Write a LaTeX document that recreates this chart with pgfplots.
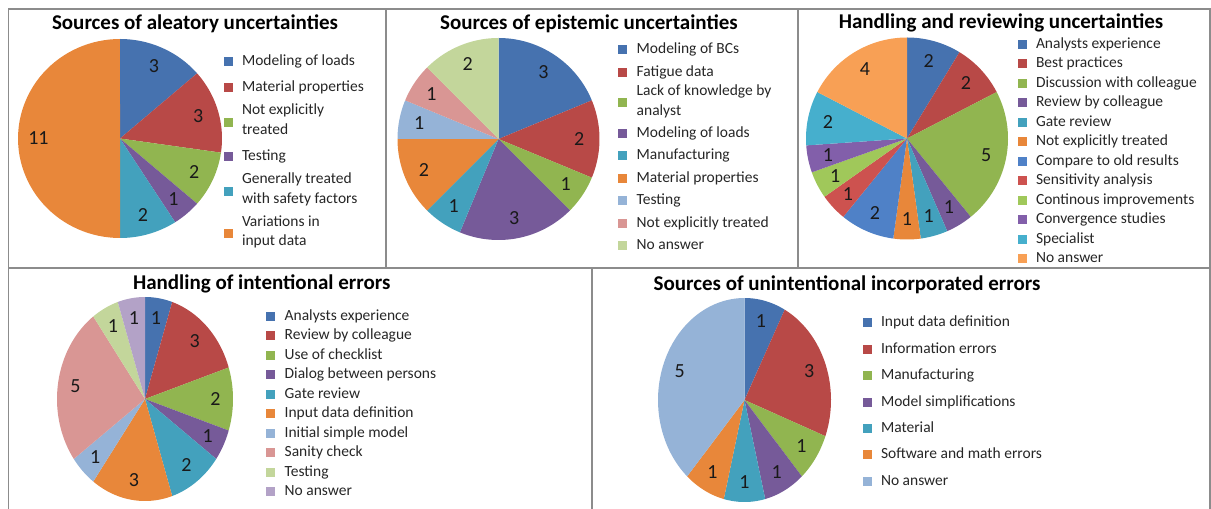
\documentclass[border=0pt]{standalone}
\usepackage{fontspec}
\setmainfont{Carlito}
\usepackage{pgfplots}
\pgfplotsset{compat=1.18}

\definecolor{cBlue}{RGB}{70,114,175}
\definecolor{cRed}{RGB}{184,73,71}
\definecolor{cGreen}{RGB}{145,181,80}
\definecolor{cPurple}{RGB}{118,90,153}
\definecolor{cTeal}{RGB}{67,161,189}
\definecolor{cOrange}{RGB}{232,135,58}
\definecolor{cLBlue}{RGB}{149,179,215}
\definecolor{cPink}{RGB}{217,150,148}
\definecolor{cLGreen}{RGB}{195,214,155}
\definecolor{cLav}{RGB}{179,162,199}
\definecolor{dBlue}{RGB}{79,129,199}
\definecolor{dRed}{RGB}{205,82,79}
\definecolor{dGreen}{RGB}{160,200,90}
\definecolor{dPurple}{RGB}{130,95,170}
\definecolor{dCyan}{RGB}{70,175,205}
\definecolor{dOrange}{RGB}{248,160,85}

\newcommand\labfont{\fontsize{20}{22}\selectfont}
\newcommand\pieset[5]{\def\cx{#1}\def\cy{#2}\def\rx{#3}\def\ry{#4}\def\tot{#5}}
\def\lr{0.8}
% #1 colour, #2 count before this slice, #3 value, #4 legend text
\newcommand\slice[4]{%
  \pgfmathsetmacro\sa{360*#2/\tot}%
  \pgfmathsetmacro\se{360*(#2+#3)/\tot}%
  \pgfmathsetmacro\sm{(\sa+\se)/2}%
  \pgfmathsetmacro\lx{\cx+\lr*\rx*sin(\sm)}%
  \pgfmathsetmacro\ly{\cy+\lr*\ry*cos(\sm)}%
  \edef\doslice{\noexpand\addplot[fill=#1,draw=none,domain=\sa:\se,samples=60,variable=\noexpand\t] ({\cx+\rx*sin(\noexpand\t)},{\cy+\ry*cos(\noexpand\t)}) -- (axis cs:\cx,\cy) -- cycle;}%
  \doslice
  \addlegendentry{#4}%
  \edef\dolabel{\noexpand\node[font=\noexpand\labfont,text=black!90,inner sep=0pt] at (axis cs:\lx,\ly) {#3};}%
  \dolabel
}

\pgfplotsset{
  every axis legend/.style={draw=none, fill=none, anchor=north west, inner sep=0pt, outer sep=0pt,
    font=\fontsize{15.5}{19.5}\selectfont, text=black!85,
    cells={anchor=west},
    nodes={inner sep=0pt, align=left, execute at begin node=\strut, execute at end node=\strut}},
  panel/.style={scale only axis, anchor=south west, xmin=0, ymin=0, ticks=none, clip=false,
    axis line style={draw=black!45, line width=1.3pt},
    legend image code/.code={\fill[##1] (0pt,-4.5pt) rectangle (9pt,4.5pt); \path (18.5pt,0pt);},
    title style={font=\fontsize{21}{24}\selectfont\bfseries, anchor=center, yshift=-7pt, inner sep=0pt, text=black},
  },
}

\begin{document}
\begin{tikzpicture}
\path[use as bounding box] (0,0) rectangle (1211pt,509pt);

% Panel 1
\begin{axis}[panel, at={(8.5pt,241pt)}, width=377.5pt, height=259pt, xmax=377.5, ymax=259,
  title={Sources of aleatory uncertainties}, title style={at={({186.5/377.5},{245/259})}},
  legend style={at={({215/377.5},{216/259})}, row sep=6.6pt}]
\pieset{111.5}{129.5}{102}{99.5}{22}
\slice{cBlue}{0}{3}{Modeling of loads}
\slice{cRed}{3}{3}{Material properties}
\slice{cGreen}{6}{2}{Not explicitly\\treated}
\slice{cPurple}{8}{1}{Testing}
\slice{cTeal}{9}{2}{Generally treated\\with safety factors}
\slice{cOrange}{11}{11}{Variations in\\input data}
\end{axis}

% Panel 2
\begin{axis}[panel, at={(386pt,241pt)}, width=412pt, height=259pt, xmax=412, ymax=259,
  title={Sources of epistemic uncertainties}, title style={at={({203/412},{245/259})}},
  legend style={at={({232.2/412},{228/259})}, row sep=2.9pt}]
\pieset{112.5}{129}{101}{101}{16}
\slice{cBlue}{0}{3}{Modeling of BCs}
\slice{cRed}{3}{2}{Fatigue data}
\slice{cGreen}{5}{1}{Lack of knowledge by\\analyst}
\slice{cPurple}{6}{3}{Modeling of loads}
\slice{cTeal}{9}{1}{Manufacturing}
\slice{cOrange}{10}{2}{Material properties}
\slice{cLBlue}{12}{1}{Testing}
\slice{cPink}{13}{1}{Not explicitly treated}
\slice{cLGreen}{14}{2}{No answer}
\end{axis}

% Panel 3
\begin{axis}[panel, at={(798pt,241pt)}, width=412pt, height=259pt, xmax=412, ymax=259,
  title={Handling and reviewing uncertainties}, title style={at={({203/412},{246/259})}},
  legend style={at={({219.5/412},{233.5/259})}, row sep=0pt}]
\pieset{109}{129.5}{101}{101}{23}
\slice{cBlue}{0}{2}{Analysts experience}
\slice{cRed}{2}{2}{Best practices}
\slice{cGreen}{4}{5}{Discussion with colleague}
\slice{cPurple}{9}{1}{Review by colleague}
\slice{cTeal}{10}{1}{Gate review}
\slice{cOrange}{11}{1}{Not explicitly treated}
\slice{dBlue}{12}{2}{Compare to old results}
\slice{dRed}{14}{1}{Sensitivity analysis}
\slice{dGreen}{15}{1}{Continous improvements}
\slice{dPurple}{16}{1}{Convergence studies}
\slice{dCyan}{17}{2}{Specialist}
\slice{dOrange}{19}{4}{No answer}
\end{axis}

% Panel 4
\begin{axis}[panel, at={(8.5pt,-3pt)}, width=583.5pt, height=244pt, xmax=583.5, ymax=244,
  title={Handling of intentional errors}, title style={at={({253.2/583.5},{229/244})}},
  legend style={at={({257.7/583.5},{205.5/244})}, row sep=0pt}]
\pieset{136.5}{113}{88}{102}{20}
\slice{cBlue}{0}{1}{Analysts experience}
\slice{cRed}{1}{3}{Review by colleague}
\slice{cGreen}{4}{2}{Use of checklist}
\slice{cPurple}{6}{1}{Dialog between persons}
\slice{cTeal}{7}{2}{Gate review}
\slice{cOrange}{9}{3}{Input data definition}
\slice{cLBlue}{12}{1}{Initial simple model}
\slice{cPink}{13}{5}{Sanity check}
\slice{cLGreen}{18}{1}{Testing}
\slice{cLav}{19}{1}{No answer}
\end{axis}

% Panel 5
\begin{axis}[panel, at={(592pt,-3pt)}, width=618pt, height=244pt, xmax=618, ymax=244,
  title={Sources of unintentional incorporated errors}, title style={at={({255/618},{228/244})}},
  legend style={at={({270.5/618},{198.8/244})}, row sep=6.9pt}]
\pieset{152.5}{112}{86.5}{102}{13}
\slice{cBlue}{0}{1}{Input data definition}
\slice{cRed}{1}{3}{Information errors}
\slice{cGreen}{4}{1}{Manufacturing}
\slice{cPurple}{5}{1}{Model simplifications}
\slice{cTeal}{6}{1}{Material}
\slice{cOrange}{7}{1}{Software and math errors}
\slice{cLBlue}{8}{5}{No answer}
\end{axis}
\end{tikzpicture}
\end{document}
